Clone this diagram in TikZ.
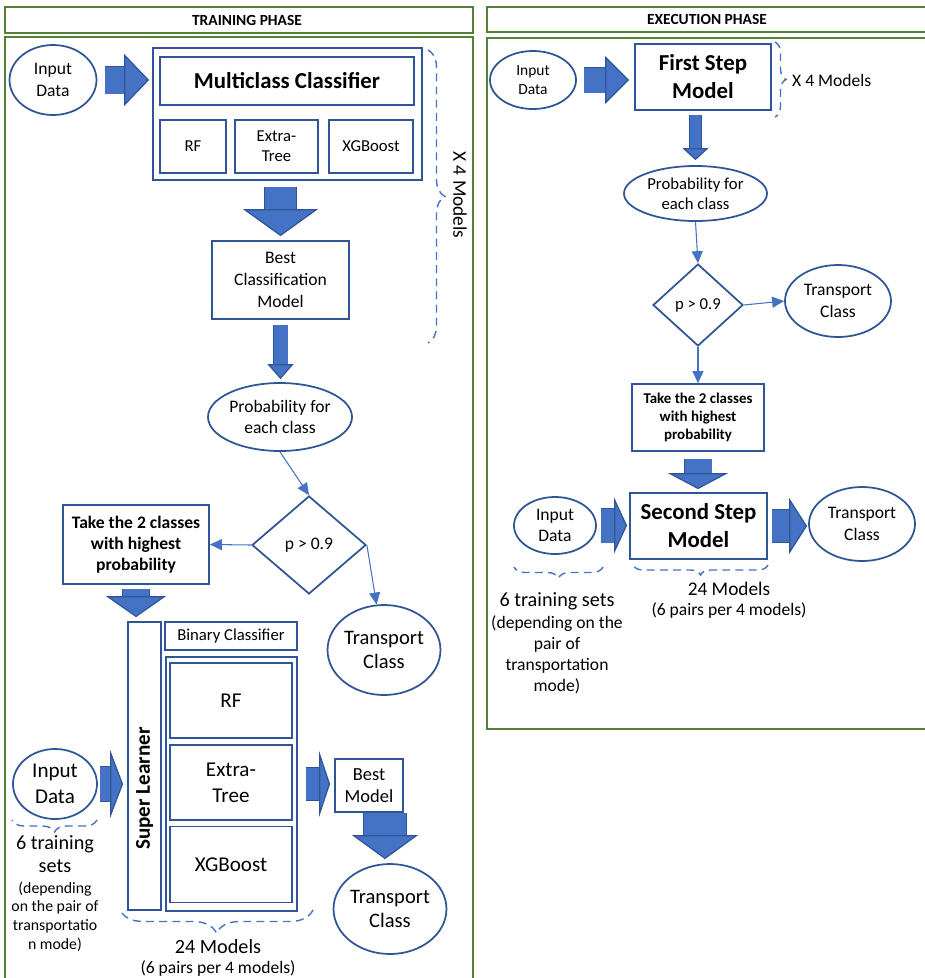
\documentclass[tikz,border=0pt]{standalone}
\usepackage{fontspec}
\setmainfont{Carlito}
\usetikzlibrary{shapes.geometric,arrows.meta,positioning,calc,decorations.pathreplacing}

\definecolor{phasegreen}{RGB}{84,130,53}
\definecolor{boxblue}{RGB}{47,85,151}
\definecolor{fillblue}{RGB}{68,114,196}
\newcommand{\pxu}{0.02cm}

\tikzset{
  dims/.style 2 args={minimum width=#1*\pxu, minimum height=#2*\pxu},
  txt/.style 2 args={font=\fontsize{#1}{#2}\selectfont},
  btxt/.style 2 args={font=\bfseries\fontsize{#1}{#2}\selectfont},
  phase/.style={draw=phasegreen, line width=1.3pt, inner sep=0pt, font=\bfseries\fontsize{8.8}{10}\selectfont},
  box/.style={draw=boxblue, line width=1pt, align=center, inner sep=0pt},
  oval/.style={ellipse, draw=boxblue, line width=1pt, align=center, inner sep=0pt},
  decision/.style={diamond, draw=boxblue, line width=1pt, inner sep=0pt},
  link/.style={draw=fillblue, line width=0.6pt, -{Triangle[length=0.24cm,width=0.22cm]}},
  fat/.style n args={3}{draw=fillblue, line width=#1,
    preaction={draw=boxblue, line width=#1+1.1pt, arrows=-, shorten >=#3},
    -{Triangle[width=#2,length=#3,line width=0.7pt,color=boxblue,fill=fillblue]}},
  dashbrace/.style={draw=fillblue, line width=0.8pt, dash pattern=on 4.5pt off 3pt,
    decorate, decoration={brace, amplitude=#1}},
}

\begin{document}
\begin{tikzpicture}[x=\pxu, y=-\pxu]
\useasboundingbox (0,0) rectangle (925,978);

% training phase
\node[phase, dims={468}{26}] (trainhead) at (239,20) {\hspace*{0.32cm}TRAINING PHASE};
\draw[draw=phasegreen, line width=1.3pt] (5,37) rectangle (473,995);

\node[oval, dims={87}{70}, txt={10}{12.3}] (in1) at (53,80) {Input\\Data};
\node[box, dims={269}{132}] (multi) at (287.5,114) {};
\node[box, dims={254}{48}, btxt={13}{16}] (mtitle) at (287,81) {Multiclass Classifier};
\node[box, dims={66}{53}, txt={9.5}{11.5}] (mrf) at (193,146.5) {RF};
\node[box, dims={83}{53}, txt={9.5}{11.5}] (mext) at (276.5,146.5) {Extra-\\Tree};
\node[box, dims={84}{53}, txt={9.5}{11.5}] (mxgb) at (371,146.5) {XGBoost};
\node[box, dims={137}{78}, txt={10}{12.3}] (best) at (280.5,280) {Best\\Classification\\Model};
\node[oval, dims={144}{68}, txt={10}{12.3}] (prob) at (280,417) {Probability for\\each class};
\node[decision, dims={114}{98}, txt={10}{12.3}] (dia) at (309,545) {p > 0.9};
\node[box, dims={146}{79}, btxt={10}{12}] (take) at (136,544.5) {Take the 2 classes\\with highest\\probability};
\node[oval, dims={110}{90}, txt={11.7}{13.5}] (tc1) at (384,650) {Transport\\Class};
\node[rotate=-90, txt={11}{13}] (rep1) at (460,195) {X 4 Models};

% binary step
\node[box, rotate=90, dims={288}{33}, btxt={12}{14}] (sl) at (144.5,766) {Super Learner\hspace*{0.9cm}};
\node[box, dims={132}{28}, txt={9.5}{11}] (bin) at (231,636) {Binary Classifier};
\node[box, dims={131}{254}] (bout) at (231.5,784) {};
\node[box, dims={122}{75}, txt={12}{15}] (brf) at (231,700.5) {RF};
\node[box, dims={122}{75}, txt={12}{15}] (bext) at (231,782.5) {Extra-\\Tree};
\node[box, dims={122}{76}, txt={12}{15}] (bxgb) at (231,864.5) {XGBoost};
\node[oval, dims={84}{70}, txt={12}{14.5}] (in2) at (55,784) {Input\\Data};
\node[box, dims={68}{53}, txt={10.5}{12.8}] (bestm) at (369,785.5) {Best\\Model};
\node[oval, dims={110}{90}, txt={11.7}{13.5}] (tc2) at (390,909) {Transport\\Class};
\node[align=center, inner sep=0pt, txt={11.5}{13}, anchor=north] (sets1) at (55,835) {6 training\\sets};
\node[align=center, inner sep=0pt, txt={9}{10.6}, below=5pt of sets1] (note1) {(depending\\on the pair of\\transportatio\\n mode)};
\node[txt={11.5}{13}] (cnt1) at (218,947) {24 Models};
\node[txt={10}{12}] (pairs1) at (218,968) {(6 pairs per 4 models)};

\draw[fat={0.54cm}{1.04cm}{0.5cm}] ($(in1.east)+(8,0)$) -- ($(in1.east -| multi.west)+(-3,0)$);
\draw[fat={0.62cm}{1.5cm}{0.54cm}] ($(multi.south -| best.north)+(0,6)$) -- ($(best.north)+(0,-4)$);
\draw[fat={0.28cm}{0.52cm}{0.3cm}] ($(best.south)+(0,5)$) -- ($(best.south |- prob.north)+(0,-3)$);
\draw[fat={0.52cm}{1.2cm}{0.42cm}] ($(take.south)+(0,4)$) -- ($(take.south |- sl.east)+(0,-4)$);
\draw[fat={0.68cm}{1.36cm}{0.26cm}] ($(in2.east)+(2,0)$) -- ($(in2.east -| sl.north)+(-4,0)$);
\draw[fat={0.64cm}{1.32cm}{0.22cm}] ($(bout.east)+(8,0)$) -- ($(bout.east -| bestm.west)+(-4,0)$);
\coordinate (bmd) at ($(bestm.south)+(16,0)$);
\draw[fat={0.84cm}{1.32cm}{0.48cm}] (bmd) -- ($(bmd |- tc2.north)+(0,-4)$);

\draw[dashbrace=0.34cm] (428,50) -- (428,343);
\draw[dashbrace=0.24cm] (97,820) -- (12,820);
\draw[dashbrace=0.46cm] (313,910) -- (120,910);

% execution phase
\node[phase, dims={440}{25}] (exechead) at (707,19.5) {EXECUTION PHASE};
\draw[draw=phasegreen, line width=1.3pt] (487,38) rectangle (935,729);

\node[oval, dims={86}{58}, txt={8.8}{10.7}] (ein) at (533,80) {Input\\Data};
\node[box, dims={136}{66}, btxt={13}{16}] (first) at (703,77) {First Step\\Model};
\node[anchor=west, txt={10}{12}] (rep2) at (786,80) {X 4 Models};
\node[oval, dims={143}{55}, txt={9.5}{11.5}] (eprob) at (695.5,193.5) {Probability for\\each class};
\node[decision, dims={90}{82}, txt={9.5}{11.5}] (edia) at (698,305) {p > 0.9};
\node[oval, dims={106}{72}, txt={10}{12.3}] (etc1) at (838,301) {Transport\\Class};
\node[box, dims={132}{67}, btxt={8.5}{10.3}] (etake) at (698,417.5) {Take the 2 classes\\with highest\\probability};
\node[box, dims={137}{66}, btxt={13}{16}] (second) at (698.5,526) {Second Step\\Model};
\node[oval, dims={82}{57}, txt={10}{12.3}] (ein2) at (555,525.5) {Input\\Data};
\node[oval, dims={106}{74}, txt={10}{12.3}] (etc2) at (862,524) {Transport\\Class};
\node[align=center, inner sep=0pt, txt={11.5}{13}, anchor=north] (sets2) at (557,592) {6 training sets};
\node[align=center, inner sep=0pt, txt={10}{12}, below=3pt of sets2] (note2) {(depending on the\\pair of\\transportation\\mode)};
\node[txt={11}{13}] (cnt2) at (729,589) {24 Models};
\node[txt={10}{12}] (pairs2) at (729,610) {(6 pairs per 4 models)};

\draw[fat={0.5cm}{0.96cm}{0.48cm}] ($(ein.east)+(7,0)$) -- ($(ein.east -| first.west)+(-5,0)$);
\draw[fat={0.22cm}{0.52cm}{0.24cm}] ($(eprob.north |- first.south)+(0,4)$) -- ($(eprob.north)+(0,-5)$);
\draw[fat={0.54cm}{1.2cm}{0.32cm}] ($(etake.south)+(0,7)$) -- ($(etake.south |- second.north)+(0,-3)$);
\draw[fat={0.68cm}{1.12cm}{0.26cm}] ($(ein2.east)+(4,0)$) -- ($(ein2.east -| second.west)+(-2,0)$);
\draw[fat={0.64cm}{1.12cm}{0.36cm}] ($(second.east)+(4,0)$) -- ($(second.east -| etc2.west)+(-1,0)$);

\draw[dashbrace=0.22cm] (775,42) -- (775,117);
\draw[dashbrace=0.22cm] (603,567) -- (514,567);
\draw[dashbrace=0.2cm] (768,565) -- (633,565);

% thin connectors
\draw[link] (prob.south) -- (dia.north);
\draw[link] (dia.west) -- (take.east);
\draw[link] (dia.east) -- (tc1);
\draw[link] (eprob.south) -- (edia.north);
\draw[link] (edia.east) -- (etc1.west);
\draw[link] (edia.south) -- (etake.north);
\end{tikzpicture}
\end{document}
